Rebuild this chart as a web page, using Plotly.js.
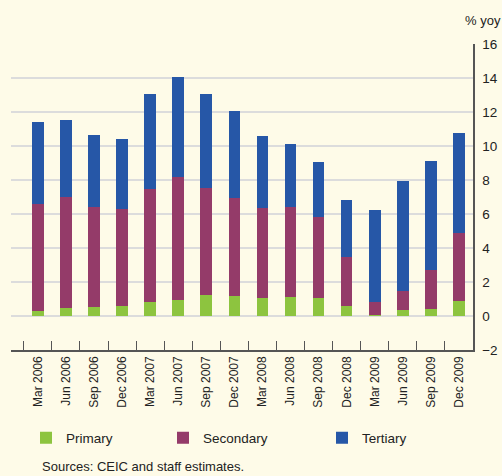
<!DOCTYPE html>
<html>
<head>
<meta charset="utf-8">
<script src="https://cdn.plot.ly/plotly-3.0.1.min.js"></script>
<style>
html,body{margin:0;padding:0;background:#FEFBE8;}
#chart{width:502px;height:476px;}
</style>
</head>
<body>
<div id="chart"></div>
<script>
var quarters = ["Mar 2006","Jun 2006","Sep 2006","Dec 2006","Mar 2007","Jun 2007","Sep 2007","Dec 2007",
                "Mar 2008","Jun 2008","Sep 2008","Dec 2008","Mar 2009","Jun 2009","Sep 2009","Dec 2009"];
var primary   = [0.29,0.47,0.53,0.59,0.82,0.94,1.24,1.18,1.06,1.12,1.06,0.59,0.05,0.35,0.41,0.88];
var secondary = [6.32,6.53,5.88,5.70,6.65,7.24,6.31,5.78,5.29,5.29,4.76,2.88,0.77,1.12,2.32,4.00];
var tertiary  = [4.80,4.53,4.24,4.12,5.59,5.88,5.51,5.10,4.24,3.71,3.24,3.35,5.42,6.47,6.39,5.88];
var yTicks = [-2,0,2,4,6,8,10,12,14,16];
var gridTicks = [0,2,4,6,8,10,12,14];

var FONT = "Liberation Sans, Arial, sans-serif";
var TXT = "#222222";

var traces = [
  {type:"scatter", x:[quarters[0]], y:[null], yaxis:"y2", showlegend:false, hoverinfo:"skip"},
  {type:"bar", name:"Primary", x:quarters, y:primary, marker:{color:"#8DC43F"}, legend:"legend"},
  {type:"bar", name:"Secondary", x:quarters, y:secondary, marker:{color:"#943B69"}, legend:"legend2"},
  {type:"bar", name:"Tertiary", x:quarters, y:tertiary, marker:{color:"#2657A7"}, legend:"legend3"}
];

function leg(xpx){
  return {orientation:"h", x:(xpx-11)/462, xanchor:"left", y:(350-438)/306, yanchor:"middle",
          bgcolor:"rgba(0,0,0,0)", font:{family:FONT, size:13.5, color:TXT}};
}

var layout = {
  width:502, height:476,
  paper_bgcolor:"#FEFBE8", plot_bgcolor:"#FEFBE8",
  margin:{l:11, r:29, t:44, b:126},
  barmode:"stack", bargap:0.585,
  font:{family:FONT, size:13, color:TXT},
  showlegend:true,
  legend:leg(26), legend2:leg(163), legend3:leg(322),
  xaxis:{type:"category", tickangle:-90, tickson:"boundaries", ticks:"inside", ticklen:9,
         tickcolor:"#555", showline:true, linecolor:"#555", linewidth:1.5, showgrid:false,
         tickfont:{family:FONT, size:12, color:TXT}, fixedrange:true},
  yaxis:{range:[-2,16], side:"right", tickvals:yTicks, showgrid:false, zeroline:false,
         showline:true, linecolor:"#555", linewidth:1.5, ticks:"",
         tickfont:{family:FONT, size:13.5, color:TXT}, ticklabelstandoff:5},
  yaxis2:{range:[-2,16], overlaying:"y", side:"left", tickvals:gridTicks, showgrid:true,
          gridcolor:"#DCDCDC", gridwidth:2, showticklabels:false, zeroline:false, showline:false},
  annotations:[
    {text:"% yoy", xref:"paper", yref:"paper", x:1.065, y:(350-20)/306, xanchor:"right", yanchor:"middle",
     showarrow:false, font:{family:FONT, size:13, color:TXT}},
    {text:"Sources: CEIC and staff estimates.", xref:"paper", yref:"paper", x:(40-11)/462, y:(350-466)/306,
     xanchor:"left", yanchor:"middle", showarrow:false, font:{family:FONT, size:13, color:TXT}}
  ]
};
Plotly.newPlot("chart", traces, layout, {displayModeBar:false, staticPlot:true});
</script>
</body>
</html>
